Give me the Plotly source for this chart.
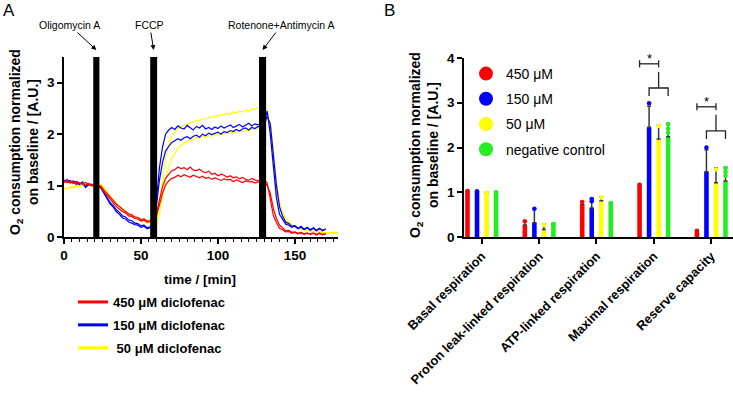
import plotly.graph_objects as go

W, H = 733, 393
FONT = "Liberation Sans, Arial, sans-serif"

# ---------------- Panel A data (O2 consumption traces, 2-min sampling) ----------------
SAMPLE_MIN = 2
red_rep1 = [1.10,1.06,1.09,1.04,1.08,1.05,1.03,1.06,1.02,1.03,
            1.00,1.00,
            0.97,0.88,0.81,0.72,0.67,0.59,0.54,0.49,0.47,0.41,0.40,0.36,0.35,0.31,0.33,0.29,0.30,
            0.30,
            0.45,0.75,0.98,1.14,1.22,1.29,1.31,1.36,1.33,1.35,1.31,1.36,1.30,1.29,1.32,1.27,1.25,1.28,
            1.22,1.24,1.19,1.22,1.20,1.16,1.19,1.15,1.17,1.13,1.16,1.12,1.10,1.14,1.11,1.09,1.12,1.11,
            1.05,0.70,0.42,0.28,0.17,0.14,0.10,0.11,0.07,0.09,0.06,0.08,0.05,0.07,0.06,0.08,0.04,0.07,0.05,0.06]
red_rep2 = [1.06,1.09,1.05,1.07,1.02,1.05,1.03,1.01,1.04,1.00,
            1.00,1.00,
            0.99,0.91,0.85,0.77,0.71,0.64,0.59,0.54,0.50,0.45,0.43,0.39,0.38,0.34,0.35,0.31,0.32,
            0.30,
            0.40,0.62,0.85,1.01,1.09,1.14,1.16,1.20,1.17,1.21,1.19,1.16,1.20,1.17,1.15,1.18,1.14,1.16,
            1.12,1.15,1.13,1.10,1.13,1.11,1.12,1.08,1.11,1.09,1.06,1.09,1.07,1.08,1.05,1.07,1.06,1.08,
            1.00,0.85,0.55,0.36,0.23,0.18,0.12,0.13,0.09,0.10,0.07,0.09,0.06,0.08,0.05,0.07,0.05,0.08,0.04,0.06]
blue_rep1 = [1.08,1.12,1.06,1.09,1.05,1.02,1.07,0.98,1.03,1.00,
             1.00,1.00,
             0.95,0.84,0.75,0.64,0.58,0.49,0.44,0.37,0.35,0.29,0.27,0.24,0.23,0.19,0.21,0.16,0.18,
             0.20,
             0.70,1.35,1.75,2.00,2.08,2.13,2.09,2.16,2.12,2.10,2.17,2.13,2.08,2.15,2.12,2.17,2.10,2.13,
             2.09,2.14,2.11,2.16,2.12,2.15,2.18,2.13,2.16,2.19,2.14,2.18,2.21,2.16,2.20,2.18,2.22,2.21,
             2.45,2.00,1.30,0.76,0.44,0.33,0.25,0.23,0.19,0.21,0.16,0.19,0.14,0.18,0.13,0.17,0.12,0.16,0.13,0.15]
blue_rep2 = [1.11,1.07,1.10,1.05,1.08,1.03,1.05,0.96,1.02,1.01,
             1.00,1.00,
             0.96,0.86,0.78,0.67,0.61,0.53,0.48,0.41,0.39,0.33,0.32,0.27,0.26,0.22,0.23,0.18,0.20,
             0.20,
             0.60,1.10,1.45,1.67,1.76,1.84,1.87,1.91,1.88,1.93,1.95,1.91,1.96,1.98,1.94,2.00,1.97,2.02,
             1.99,2.01,2.04,2.00,2.05,2.03,2.07,2.05,2.09,2.06,2.10,2.12,2.08,2.13,2.11,2.15,2.13,2.17,
             2.35,2.20,1.60,1.01,0.59,0.41,0.29,0.26,0.21,0.22,0.17,0.21,0.15,0.19,0.14,0.18,0.13,0.17,0.12,0.16]
yellow_rep1 = [0.95,0.93,0.97,0.95,0.99,0.98,1.02,0.99,1.01,0.98,
               1.00,1.00,
               1.00,0.94,0.88,0.78,0.72,0.63,0.59,0.51,0.49,0.43,0.41,0.36,0.35,0.31,0.31,0.27,0.28,
               0.25,
               0.30,0.70,1.15,1.55,1.80,1.96,2.04,2.11,2.13,2.18,2.19,2.23,2.23,2.27,2.26,2.30,2.29,2.33,
               2.32,2.36,2.35,2.38,2.37,2.41,2.39,2.43,2.41,2.45,2.43,2.47,2.45,2.49,2.48,2.51,2.49,2.52,
               2.45,2.05,1.35,0.85,0.55,0.40,0.32,0.27,0.23,0.20,0.17,0.15,0.14,0.12,0.12,0.11,0.10,0.10,0.09,0.09,
               0.08,0.09,0.08,0.08]
yellow_rep2 = [0.96,0.94,0.97,0.97,1.00,1.00,1.00,1.01,1.00,1.00,
               1.00,1.00,
               1.02,0.95,0.89,0.79,0.73,0.64,0.60,0.53,0.50,0.44,0.42,0.37,0.36,0.32,0.32,0.28,0.29,
               0.25,
               0.22,0.45,0.80,1.10,1.35,1.53,1.62,1.73,1.77,1.84,1.85,1.89,1.89,1.93,1.92,1.95,1.94,1.97,
               1.96,1.99,1.98,2.01,2.00,2.03,2.02,2.05,2.04,2.06,2.05,2.08,2.07,2.10,2.09,2.12,2.11,2.13,
               2.30,2.25,1.70,1.10,0.70,0.48,0.36,0.29,0.24,0.21,0.18,0.16,0.15,0.13,0.12,0.11,0.11,0.10,0.09,0.09,
               0.08,0.08,0.07,0.08]

# injections: (name, start min, end min)
injection_names = ["Oligomycin A", "FCCP", "Rotenone+Antimycin A"]
injection_start = [19.0, 56.0, 126.7]
injection_end = [23.0, 60.5, 131.3]

legend_a_names = ["450 μM diclofenac", "150 μM diclofenac", "\u00a050 μM diclofenac"]
a_xticks = [0, 50, 100, 150]
a_yticks = [0, 1, 2, 3]

# ---------------- Panel B data ----------------
categories = ["Basal respiration", "Proton leak-linked respiration", "ATP-linked respiration",
              "Maximal respiration", "Reserve capacity"]
series_names = ["450 μM", "150 μM", "50 μM", "negative control"]
mean_450 = [1.02, 0.27, 0.73, 1.14, 0.12]
err_450 = [0.02, 0.09, 0.06, 0.04, 0.03]
mean_150 = [1.02, 0.32, 0.65, 2.45, 1.46]
err_150 = [0.01, 0.31, 0.21, 0.47, 0.49]
mean_50 = [0.99, 0.17, 0.81, 2.19, 1.21]
err_50 = [0.01, 0.12, 0.09, 0.31, 0.33]
mean_ctrl = [1.00, 0.29, 0.76, 2.24, 1.25]
err_ctrl = [0.01, 0.01, 0.01, 0.30, 0.31]
# individual replicate points: category index, value
dots_450_cat = [0, 1, 2, 3, 4]
dots_450_val = [1.03, 0.35, 0.78, 1.17, 0.14]
dots_150_cat = [0, 1, 2, 2, 3, 4]
dots_150_val = [1.02, 0.63, 0.80, 0.85, 2.99, 2.00]
dots_50_cat = [0, 1, 2, 3, 4]
dots_50_val = [0.99, 0.27, 0.88, 2.48, 1.51]
dots_ctrl_cat = [0, 1, 2, 3, 3, 3, 4, 4, 4]
dots_ctrl_val = [1.00, 0.29, 0.76, 2.52, 2.42, 2.33, 1.53, 1.45, 1.37]
b_yticks = [0, 1, 2, 3, 4]
# significance brackets: category index, level of lower bracket legs
sig_cats = [3, 4]
sig_base = [3.15, 2.19]

RED, BLUE, YELLOW, GREEN = "#FF0000", "#0000FF", "#FFFF00", "#22EE22"

# pixel layout of the panels
A_X0, A_X1, A_Y0, A_Y1 = 64, 338, 237, 57
B_X0, B_Y0, B_Y1 = 464, 237, 58
B_RANGE_Y = [0, 4]

fig = go.Figure()

# ---- Panel A traces ----
def times(vals):
    return [i * SAMPLE_MIN for i in range(len(vals))]

for vals, col in [(yellow_rep1, YELLOW), (yellow_rep2, YELLOW), (blue_rep1, BLUE), (blue_rep2, BLUE),
                  (red_rep1, RED), (red_rep2, RED)]:
    fig.add_trace(go.Scatter(x=times(vals), y=vals, mode="lines", line=dict(color=col, width=1.2),
                             showlegend=False, xaxis="x", yaxis="y", hoverinfo="skip"))

for name, col in zip(legend_a_names, [RED, BLUE, YELLOW]):
    fig.add_trace(go.Scatter(x=[None], y=[None], mode="lines", line=dict(color=col, width=3),
                             name=name, legend="legend", legendgroup=name, xaxis="x", yaxis="y"))

# ---- Panel B bars ----
slot = 0.166
bar_w = 0.08
offsets = [-1.5 * slot, -0.5 * slot, 0.5 * slot, 1.5 * slot]
idx = list(range(len(categories)))
bar_sets = [(mean_450, err_450, RED, dots_450_cat, dots_450_val),
            (mean_150, err_150, BLUE, dots_150_cat, dots_150_val),
            (mean_50, err_50, YELLOW, dots_50_cat, dots_50_val),
            (mean_ctrl, err_ctrl, GREEN, dots_ctrl_cat, dots_ctrl_val)]
for k, (m, e, col, dc, dv) in enumerate(bar_sets):
    fig.add_trace(go.Bar(x=idx, y=m, width=bar_w, offset=offsets[k] - bar_w / 2,
                         marker=dict(color=col, line=dict(width=0)),
                         error_y=dict(type="data", array=e, arrayminus=[0] * len(e), symmetric=False,
                                      color="#3a3a3a", thickness=1.5, width=2),
                         showlegend=False, xaxis="x2", yaxis="y2"))
    fig.add_trace(go.Scatter(x=[c + offsets[k] for c in dc], y=dv, mode="markers",
                             marker=dict(color=col, size=4.5), showlegend=False,
                             xaxis="x2", yaxis="y2"))

for name, col in zip(series_names, [RED, BLUE, YELLOW, GREEN]):
    fig.add_trace(go.Scatter(x=[None], y=[None], mode="markers", marker=dict(color=col, size=14),
                             name=name, legend="legend2", legendgroup="b" + name,
                             xaxis="x2", yaxis="y2"))


def b_paper_y(v):
    bottom = 1 - B_Y0 / H
    top = 1 - B_Y1 / H
    return bottom + (v - B_RANGE_Y[0]) / (B_RANGE_Y[1] - B_RANGE_Y[0]) * (top - bottom)


# ---- shapes ----
shapes = []
for s, e in zip(injection_start, injection_end):
    shapes.append(dict(type="rect", xref="x", yref="y", x0=s, x1=e, y0=0, y1=3.5,
                       fillcolor="black", line=dict(width=0), layer="above"))

line_k = dict(color="#222", width=1.3)
for c, base in zip(sig_cats, sig_base):
    xr, xb, xy, xg = [c + o for o in offsets]
    low = base + 0.18
    top = base + 0.72
    shapes.append(dict(type="path", xref="x2", yref="y2",
                       path=f"M {xb} {base} L {xb} {low} L {xg} {low} L {xg} {base}", line=line_k))
    shapes.append(dict(type="line", xref="x2", yref="y2", x0=xy, x1=xy, y0=low, y1=base + 0.54, line=line_k))
    shapes.append(dict(type="line", xref="x2", yref="y2", x0=xr, x1=xy, y0=top, y1=top, line=line_k))
    shapes.append(dict(type="line", xref="x2", yref="y2", x0=xr, x1=xr, y0=top - 0.08, y1=top + 0.08, line=line_k))
    shapes.append(dict(type="line", xref="x2", yref="y2", x0=xy, x1=xy, y0=top - 0.08, y1=top + 0.08, line=line_k))

annotations = []
for c, base in zip(sig_cats, sig_base):
    annotations.append(dict(x=c + (offsets[0] + offsets[2]) / 2, y=b_paper_y(base + 0.84),
                            xref="x2", yref="paper", yanchor="middle",
                            text="*", showarrow=False, font=dict(size=13, color="black")))

arrow_offsets = [(-27, -25), (-4, -25), (19, -25)]
for name, s, e, (ax, ay) in zip(injection_names, injection_start, injection_end, arrow_offsets):
    annotations.append(dict(x=(s + e) / 2, y=1 - 50 / H, xref="x", yref="paper", text=name,
                            showarrow=True, ax=ax, ay=ay, arrowhead=2, arrowsize=1, arrowwidth=1,
                            arrowcolor="black", font=dict(size=10.5, color="black"), standoff=0))

ytitle = "O<sub>2</sub> consumption normalized<br>on baseline / [A.U.]"
annotations += [
    dict(x=24 / W, y=1 - 142 / H, xref="paper", yref="paper", text=ytitle, textangle=-90,
         showarrow=False, font=dict(size=14, weight="bold"), xanchor="center", yanchor="middle"),
    dict(x=424 / W, y=1 - 145 / H, xref="paper", yref="paper", text=ytitle, textangle=-90,
         showarrow=False, font=dict(size=14, weight="bold"), xanchor="center", yanchor="middle"),
    dict(x=200 / W, y=1 - 279 / H, xref="paper", yref="paper", text="time / [min]",
         showarrow=False, font=dict(size=13.5, weight="bold"), xanchor="center", yanchor="middle"),
    dict(x=9 / W, y=1 - 10 / H, xref="paper", yref="paper", text="A", showarrow=False,
         font=dict(size=17), xanchor="center", yanchor="middle"),
    dict(x=389 / W, y=1 - 10 / H, xref="paper", yref="paper", text="B", showarrow=False,
         font=dict(size=17), xanchor="center", yanchor="middle"),
]

axis_common = dict(showline=True, linecolor="black", linewidth=1.5, ticks="outside", ticklen=5,
                   tickwidth=1.5, tickcolor="black", showgrid=False, zeroline=False, automargin=False,
                   tickfont=dict(size=13.5, weight="bold", color="black"))


def bold(vals):
    return [f"<b>{v}</b>" for v in vals]


fig.update_layout(
    width=W, height=H, margin=dict(l=0, r=0, t=0, b=0, autoexpand=False),
    paper_bgcolor="white", plot_bgcolor="white",
    font=dict(family=FONT, color="black"),
    xaxis=dict(domain=[A_X0 / W, A_X1 / W], range=[0, 178], tickvals=a_xticks, ticktext=bold(a_xticks),
               minor=dict(dtick=5, ticks="outside", ticklen=3, tickcolor="black", tickwidth=1.2),
               anchor="y", **axis_common),
    yaxis=dict(domain=[1 - A_Y0 / H, 1 - A_Y1 / H], range=[0, 3.5], tickvals=a_yticks,
               ticktext=bold(a_yticks), anchor="x", **axis_common),
    xaxis2=dict(domain=[B_X0 / W, 1.0], range=[-0.31, 4.38], tickvals=idx, ticktext=bold(categories),
                tickangle=-45, anchor="y2",
                **{**axis_common, "tickfont": dict(size=12.8, weight="bold", color="black")}),
    yaxis2=dict(domain=[1 - B_Y0 / H, 1 - B_Y1 / H], range=B_RANGE_Y, tickvals=b_yticks,
                ticktext=bold(b_yticks), anchor="x2", **axis_common),
    barmode="overlay",
    legend=dict(x=73 / W, y=1 - 287 / H, xanchor="left", yanchor="top", bgcolor="rgba(0,0,0,0)",
                font=dict(size=13, weight="bold"), tracegroupgap=3, itemwidth=30),
    legend2=dict(x=466 / W, y=1 - 58 / H, xanchor="left", yanchor="top", bgcolor="rgba(0,0,0,0)",
                 font=dict(size=14), tracegroupgap=4, itemwidth=30),
    shapes=shapes, annotations=annotations,
)

fig.write_html("out.html", config={"displayModeBar": False},
               post_script="document.body.style.margin='0px';")
